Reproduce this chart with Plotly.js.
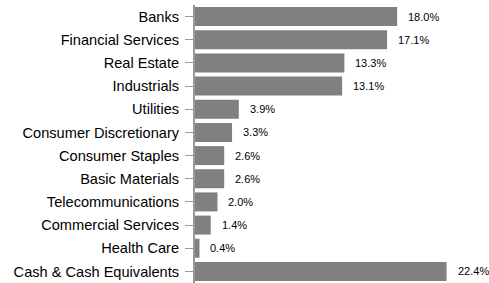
<!DOCTYPE html>
<html>
<head>
<meta charset="utf-8">
<script src="https://cdn.plot.ly/plotly-3.0.1.min.js"></script>
<style>html,body{margin:0;padding:0;background:#fff;}#chart{width:489px;height:283px;}</style>
</head>
<body>
<div id="chart"></div>
<script>
const categories = ["Banks","Financial Services","Real Estate","Industrials","Utilities","Consumer Discretionary","Consumer Staples","Basic Materials","Telecommunications","Commercial Services","Health Care","Cash & Cash Equivalents"];
const values = [18.0, 17.1, 13.3, 13.1, 3.9, 3.3, 2.6, 2.6, 2.0, 1.4, 0.4, 22.4];
const valueLabels = ["18.0%","17.1%","13.3%","13.1%","3.9%","3.3%","2.6%","2.6%","2.0%","1.4%","0.4%","22.4%"];

const trace = {
  type: 'bar',
  orientation: 'h',
  x: values,
  y: categories,
  marker: {color: '#808080'},
  hoverinfo: 'none'
};

const annotations = categories.map((c, i) => ({
  x: values[i], y: c, xref: 'x', yref: 'y',
  text: valueLabels[i], showarrow: false,
  xanchor: 'left', yanchor: 'middle', xshift: 9,
  font: {family: 'Liberation Sans, Arial, sans-serif', size: 11, color: '#000'}
}));

const layout = {
  width: 489, height: 283,
  margin: {l: 195, r: 2, t: 5, b: 0, pad: 0},
  paper_bgcolor: '#fff', plot_bgcolor: '#fff',
  showlegend: false,
  bargap: 0.18,
  font: {family: 'Liberation Sans, Arial, sans-serif', color: '#000'},
  xaxis: {range: [0, 26], visible: false, fixedrange: true},
  yaxis: {
    autorange: 'reversed', type: 'category',
    showline: true, linecolor: '#999999', linewidth: 2,
    ticks: 'outside', ticklen: 8, tickcolor: '#999999', tickwidth: 1,
    ticklabelstandoff: 3,
    showgrid: false, zeroline: false,
    tickfont: {family: 'Liberation Sans, Arial, sans-serif', size: 14.6, color: '#000'},
    fixedrange: true
  },
  annotations: annotations
};

Plotly.newPlot('chart', [trace], layout, {displayModeBar: false, staticPlot: true});
</script>
</body>
</html>
